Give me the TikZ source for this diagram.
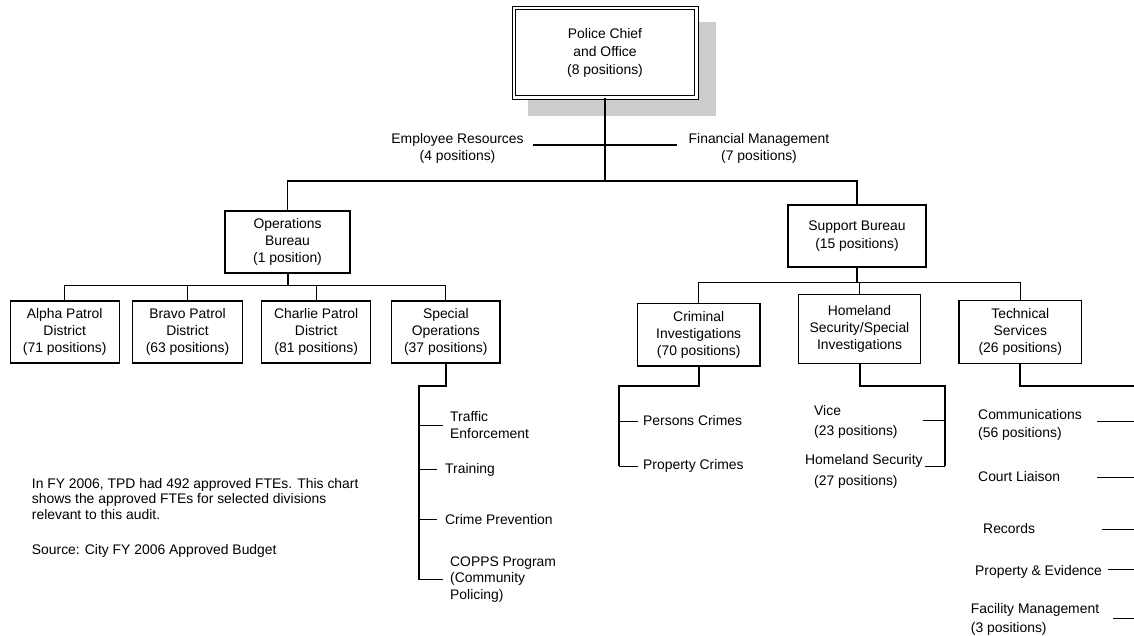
\documentclass[tikz,border=0pt]{standalone}
\usepackage{fontspec}
\setmainfont{Liberation Sans}
\usetikzlibrary{calc}
\definecolor{shadowgray}{RGB}{204,204,204}
\begin{document}
\begin{tikzpicture}[x=1pt,y=-1pt,
  box/.style={draw, line width=1.2pt, rectangle, align=center, inner sep=0pt, fill=white,
    font=\fontsize{13.9}{17.3}\selectfont},
  lbl/.style={inner sep=0pt, align=left, anchor=north west, font=\fontsize{13.9}{16.5}\selectfont},
  ctr/.style={inner sep=0pt, align=center, anchor=north, font=\fontsize{13.9}{17}\selectfont},
  conn/.style={line width=1.2pt},
  thickconn/.style={line width=2pt},
  branch/.style={line width=1pt}]
\useasboundingbox (0,0) rectangle (1134,635);

% shadow + chief
\fill[shadowgray] (528,22) rectangle (716,116);
\node[box, line width=1pt, double, double distance=2.5pt, minimum width=182.5pt, minimum height=89.5pt,
  font=\fontsize{13.9}{18}\selectfont] (chief) at (605,52.5) {Police Chief\\and Office\\(8 positions)};

% staff units
\node[ctr] (er) at (457.5,133.3) {Employee Resources\\(4 positions)};
\node[ctr] (fm) at (759,133.3) {Financial Management\\(7 positions)};
\coordinate (er1) at (533,145);
\coordinate (fm1) at (677,145);
\draw[conn] (er1) -- (fm1);

% bureaus
\node[box, minimum width=125pt, minimum height=62pt] (ops) at (287.5,242) {Operations\\Bureau\\(1 position)};
\node[box, minimum width=138pt, minimum height=62pt] (sup) at (857,236) {Support Bureau\\(15 positions)};
\coordinate (busA) at (605,181);
\draw[conn] (chief.south) -- (busA);
\draw[conn] (ops.north) -- (ops.north |- busA) -- (sup.north |- busA) -- (sup.north);

% operations divisions
\node[box, minimum width=109pt, minimum height=62pt] (alpha) at (64.7,332) {Alpha Patrol\\District\\(71 positions)};
\node[box, minimum width=109.6pt, minimum height=62pt] (bravo) at (187.5,332) {Bravo Patrol\\District\\(63 positions)};
\node[box, minimum width=109pt, minimum height=62pt] (charlie) at (316.2,332) {Charlie Patrol\\District\\(81 positions)};
\node[box, minimum width=108.3pt, minimum height=62pt] (special) at (445.8,332) {Special\\Operations\\(37 positions)};
\coordinate (busB) at (287.5,285.5);
\draw[thickconn] (ops.south) -- (ops.south |- busB);
\draw[conn] (alpha.north) -- (alpha.north |- busB) -- (special.north |- busB) -- (special.north);
\draw[conn] (bravo.north) -- (bravo.north |- busB);
\draw[conn] (charlie.north) -- (charlie.north |- busB);

% support divisions
\node[box, minimum width=122.7pt, minimum height=62.7pt] (crim) at (698.7,334.7) {Criminal\\Investigations\\(70 positions)};
\node[box, minimum width=122.4pt, minimum height=69pt] (homeland) at (859.5,328.8) {Homeland\\Security/Special\\Investigations};
\node[box, minimum width=122.7pt, minimum height=62.6pt] (tech) at (1020.3,332) {Technical\\Services\\(26 positions)};
\coordinate (busC) at (857,282.5);
\draw[thickconn] (sup.south) -- (sup.south |- busC);
\draw[conn] (crim.north) -- (crim.north |- busC) -- (tech.north |- busC) -- (tech.north);
\draw[conn] (homeland.north) -- (homeland.north |- busC);

% special operations units
\node[lbl] (te) at (450,411.5) {Traffic\\Enforcement};
\node[lbl] (tr) at (445,463) {Training};
\node[lbl] (cp) at (445,514) {Crime Prevention};
\node[lbl] (co) at (450,556.5) {COPPS Program\\(Community\\Policing)};
\coordinate (sp1) at (419,385.5);
\draw[thickconn] (special.south) -- (special.south |- sp1) -- (sp1) -- (sp1 |- co.west);
\draw[branch] (sp1 |- te.west) -- ([xshift=-7pt]te.west);
\draw[branch] (sp1 |- tr.west) -- ([xshift=-8pt]tr.west);
\draw[branch] (sp1 |- cp.west) -- ([xshift=-8pt]cp.west);
\draw[branch] (sp1 |- co.west) -- ([xshift=-7pt]co.west);

% criminal investigations units
\node[lbl, anchor=west] (pc) at (643,421) {Persons Crimes};
\node[lbl, anchor=west] (prc) at (643,466) {Property Crimes};
\coordinate (cr1) at (619,385.5);
\draw[thickconn] (crim.south) -- (crim.south |- cr1) -- (cr1) -- (cr1 |- prc.west);
\draw[branch] (cr1 |- pc.west) -- ([xshift=-5pt]pc.west);
\draw[branch] (cr1 |- prc.west) -- ([xshift=-5pt]prc.west);

% homeland units
\node[lbl, font=\fontsize{13.9}{20.5}\selectfont] (vice) at (814,405) {Vice\\(23 positions)};
\node[lbl, font=\fontsize{13.9}{20.5}\selectfont] (hs) at (805,454.3) {Homeland Security\\\hspace*{9pt}(27 positions)};
\coordinate (hl1) at (945,385.5);
\coordinate (hv) at (945,420.7);
\coordinate (hh) at (945,466);
\draw[thickconn] (homeland.south) -- (homeland.south |- hl1) -- (hl1) -- (hh);
\draw[branch] (hv) -- ++(-22.3,0);
\draw[branch] (hh) -- ++(-20,0);

% technical services units
\node[lbl, font=\fontsize{13.9}{18.5}\selectfont] (comm) at (978,409) {Communications\\(56 positions)};
\node[lbl] (court) at (978,471.7) {Court Liaison};
\node[lbl] (rec) at (983,523.3) {Records};
\node[lbl] (pe) at (975,565) {Property \& Evidence};
\node[lbl, font=\fontsize{13.9}{19}\selectfont] (fac) at (970.7,603.3) {Facility Management\\(3 positions)};
\coordinate (tk1) at (1134,385.5);
\draw[thickconn] (tech.south) -- (tech.south |- tk1) -- (tk1);
\coordinate (t1) at (1134,421.7);
\coordinate (t2) at (1134,477);
\coordinate (t3) at (1134,529);
\coordinate (t4) at (1134,569);
\coordinate (t5) at (1134,618);
\draw[branch] (t1) -- ++(-37.3,0);
\draw[branch] (t2) -- ++(-37.3,0);
\draw[branch] (t3) -- ++(-32,0);
\draw[branch] (t4) -- ++(-26,0);
\draw[branch] (t5) -- ++(-21,0);

% note
\node[lbl, font=\fontsize{13.9}{15.5}\selectfont] (note) at (31.7,478) {In FY 2006, TPD had 492 approved FTEs. This chart\\shows the approved FTEs for selected divisions\\relevant to this audit.};
\node[lbl] (src) at (31.7,544) {Source: City FY 2006 Approved Budget};
\end{tikzpicture}
\end{document}
